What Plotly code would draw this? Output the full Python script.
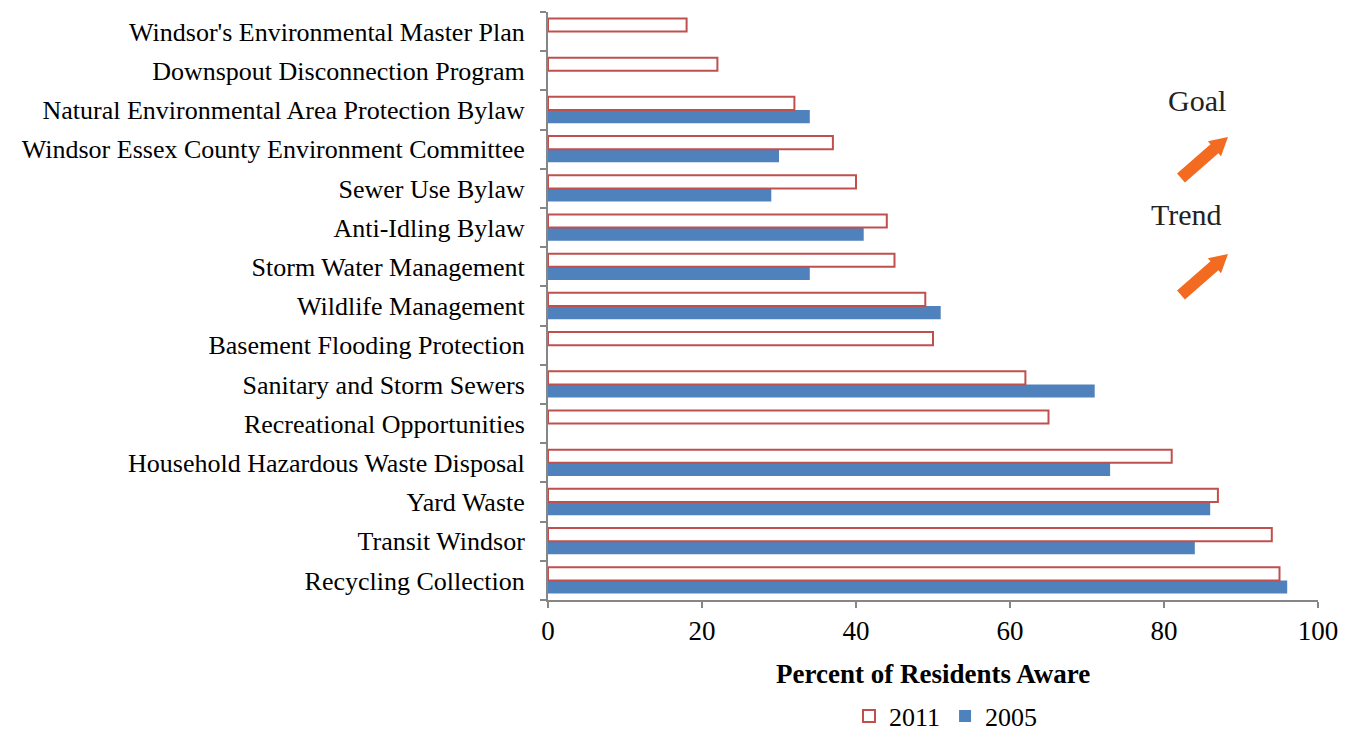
import math
import plotly.graph_objects as go

# Survey items, listed bottom to top as they appear on the axis
programs = [
    "Recycling Collection",
    "Transit Windsor",
    "Yard Waste",
    "Household Hazardous Waste Disposal",
    "Recreational Opportunities",
    "Sanitary and Storm Sewers",
    "Basement Flooding Protection",
    "Wildlife Management",
    "Storm Water Management",
    "Anti-Idling Bylaw",
    "Sewer Use Bylaw",
    "Windsor Essex County Environment Committee",
    "Natural Environmental Area Protection Bylaw",
    "Downspout Disconnection Program",
    "Windsor's Environmental Master Plan",
]
aware_2011 = [95, 94, 87, 81, 65, 62, 50, 49, 45, 44, 40, 37, 32, 22, 18]
aware_2005 = [96, 84, 86, 73, None, 71, None, 51, 34, 41, 29, 30, 34, None, None]
x_ticks = [0, 20, 40, 60, 80, 100]

W, H = 1352, 732
L, R, T, B = 548, 34, 12, 132
PW, PH = W - L - R, H - T - B

SERIF = "Liberation Serif"
RED = "#C0504D"
BLUE = "#4F81BD"
ORANGE = "#F26B21"
AXIS = "#868686"


def px(x, y):
    """Pixel position on the page -> paper coordinates."""
    return (x - L) / PW, (H - B - y) / PH


def arrow_path(tail, tip, shaft_half=6, head_half=10, head_len=18):
    tx, ty = tail
    hx, hy = tip
    dx, dy = hx - tx, hy - ty
    n = math.hypot(dx, dy)
    ux, uy = dx / n, dy / n
    nx, ny = -uy, ux
    bx, by = hx - ux * head_len, hy - uy * head_len
    pts = [
        (tx + nx * shaft_half, ty + ny * shaft_half),
        (bx + nx * shaft_half, by + ny * shaft_half),
        (bx + nx * head_half, by + ny * head_half),
        (hx, hy),
        (bx - nx * head_half, by - ny * head_half),
        (bx - nx * shaft_half, by - ny * shaft_half),
        (tx - nx * shaft_half, ty - ny * shaft_half),
    ]
    segs = []
    for i, (x, y) in enumerate(pts):
        p = px(x, y)
        segs.append(("M" if i == 0 else "L") + f"{p[0]:.5f},{p[1]:.5f}")
    return " ".join(segs) + " Z"


fig = go.Figure()
fig.add_trace(go.Bar(
    y=programs, x=aware_2005, name="2005", orientation="h",
    marker=dict(color=BLUE, line=dict(color=BLUE, width=0)),
    legendrank=2,
))
fig.add_trace(go.Bar(
    y=programs, x=aware_2011, name="2011", orientation="h",
    marker=dict(color="white", line=dict(color=RED, width=2)),
    legendrank=1,
))

shapes = []
for tail, tip in [((1181, 178), (1228, 137)), ((1181, 295), (1228, 254))]:
    shapes.append(dict(type="path", xref="paper", yref="paper",
                       path=arrow_path(tail, tip), fillcolor=ORANGE,
                       line=dict(width=0)))

annotations = []
for text, (x, y) in [("Goal", (1197, 100)), ("Trend", (1186, 214))]:
    p = px(x, y)
    annotations.append(dict(text=text, x=p[0], y=p[1], xref="paper", yref="paper",
                            xanchor="center", yanchor="middle", showarrow=False,
                            font=dict(family=SERIF, size=30, color="#222")))
tp = px(933, 674)
annotations.append(dict(text="<b>Percent of Residents Aware</b>", x=tp[0], y=tp[1],
                        xref="paper", yref="paper", xanchor="center", yanchor="middle",
                        showarrow=False, font=dict(family=SERIF, size=27, color="black")))

lp = px(946, 716)
fig.update_layout(
    width=W, height=H,
    margin=dict(l=L, r=R, t=T, b=B, autoexpand=False),
    paper_bgcolor="white", plot_bgcolor="white",
    barmode="group", bargap=0.33, bargroupgap=0.0,
    font=dict(family=SERIF, size=26, color="black"),
    showlegend=True,
    legend=dict(orientation="h", x=lp[0], xanchor="center", y=lp[1], yanchor="middle",
                font=dict(family=SERIF, size=26), itemwidth=30, tracegroupgap=0),
    xaxis=dict(range=[0, 100], tickvals=x_ticks, showgrid=False, zeroline=False,
               showline=True, linecolor=AXIS, linewidth=2, automargin=False,
               ticks="outside", ticklen=6, tickcolor=AXIS, tickwidth=2,
               tickfont=dict(family=SERIF, size=27)),
    yaxis=dict(type="category", categoryorder="array", categoryarray=programs,
               showgrid=False, showline=True, linecolor=AXIS, linewidth=2,
               automargin=False,
               ticks="outside", ticklen=6, tickcolor=AXIS, tickwidth=2,
               tickson="boundaries", ticklabelstandoff=16,
               tickfont=dict(family=SERIF, size=26)),
    shapes=shapes,
    annotations=annotations,
)

fig.write_html("out.html")
